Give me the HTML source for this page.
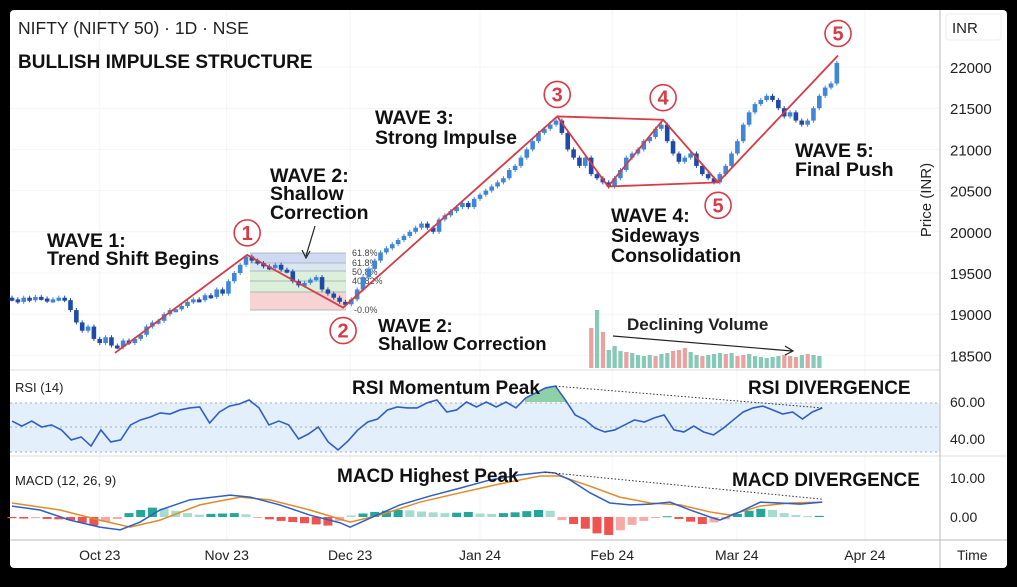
<!DOCTYPE html>
<html><head><meta charset="utf-8"><style>
html,body{margin:0;padding:0;background:#000;}
svg{display:block;font-family:"Liberation Sans",Arial,sans-serif;}
.b{font-weight:bold;fill:#111;font-size:19.5px;}
</style></head><body>
<svg id="c" width="1017" height="587" viewBox="0 0 1017 587" xmlns="http://www.w3.org/2000/svg">
<rect x="0" y="0" width="1017" height="587" fill="#000"/>
<rect x="10" y="10" width="997" height="558" rx="4" fill="#fff"/>
<g id="grid"></g>
<rect x="10" y="403" width="930" height="49" fill="#e3f0fb"/>
<line x1="10" y1="370" x2="940" y2="370" stroke="#ddd"/>
<line x1="10" y1="456" x2="1007" y2="456" stroke="#ddd"/>
<line x1="10" y1="540" x2="1007" y2="540" stroke="#bbb"/>
<line x1="940" y1="10" x2="940" y2="568" stroke="#bbb"/>
<rect x="946" y="14" width="55" height="26" rx="3" fill="#fff" stroke="#eee"/>
<text x="952" y="33" font-size="15" fill="#222">INR</text>
<text x="931" y="200" font-size="15" fill="#222" text-anchor="middle" transform="rotate(-90 931 200)">Price (INR)</text>
<text x="18" y="34" font-size="17.5" fill="#222">NIFTY (NIFTY 50) · 1D · NSE</text>
<text class="b" style="font-size:19px" x="18" y="68">BULLISH IMPULSE STRUCTURE</text>
<g id="fib">
<rect x="250" y="253" width="96" height="10" fill="#cfd9f2"/>
<rect x="250" y="263" width="96" height="8" fill="#dbe6f3"/>
<rect x="250" y="271" width="96" height="21" fill="#dcefd8"/>
<rect x="250" y="292" width="96" height="18" fill="#f7d3d3"/>
<g stroke="#9aa" stroke-width="0.8"><line x1="250" y1="253" x2="346" y2="253"/><line x1="250" y1="263" x2="346" y2="263"/><line x1="250" y1="271" x2="346" y2="271"/><line x1="250" y1="281" x2="346" y2="281"/><line x1="250" y1="292" x2="346" y2="292"/><line x1="250" y1="310" x2="346" y2="310"/></g>
<g font-size="9" fill="#444"><text x="352" y="256">61.8%</text><text x="352" y="266">61.8%</text><text x="352" y="275">50.8%</text><text x="352" y="284">40.82%</text><text x="354" y="313">-0.0%</text></g>
</g>
<g id="vol"></g>
<g id="candles"></g>
<g id="waves"></g>
<g id="labels">
<text class="b" x="47" y="247">WAVE 1:</text>
<text class="b" x="47" y="265">Trend Shift Begins</text>
<text class="b" x="270" y="182">WAVE 2:</text>
<text class="b" x="270" y="200">Shallow</text>
<text class="b" x="270" y="219">Correction</text>
<line x1="315" y1="226" x2="306" y2="256" stroke="#222" stroke-width="1.2"/>
<path d="M302 250 L306 258 L310 251" fill="none" stroke="#222" stroke-width="1.2"/>
<text class="b" x="375" y="124">WAVE 3:</text>
<text class="b" x="375" y="144">Strong Impulse</text>
<text class="b" style="font-size:18.5px" x="378" y="332">WAVE 2:</text>
<text class="b" style="font-size:18.5px" x="378" y="350">Shallow Correction</text>
<text class="b" x="611" y="222">WAVE 4:</text>
<text class="b" x="611" y="242">Sideways</text>
<text class="b" x="611" y="262">Consolidation</text>
<text class="b" x="795" y="157">WAVE 5:</text>
<text class="b" x="795" y="176">Final Push</text>
<text x="627" y="330" font-size="17" font-weight="bold" fill="#222">Declining Volume</text>
<line x1="613" y1="336" x2="792" y2="351" stroke="#222" stroke-width="1.2"/>
<path d="M785 346 L793 351 L785 355" fill="none" stroke="#222" stroke-width="1.2"/>
</g>
<g id="rsi"></g>
<text x="15" y="392" font-size="13" fill="#222">RSI (14)</text>
<text class="b" style="font-size:19px" x="352" y="394">RSI Momentum Peak</text>
<text class="b" style="font-size:19px" x="748" y="394">RSI DIVERGENCE</text>
<g id="macd"></g>
<text x="15" y="485" font-size="13" fill="#222">MACD (12, 26, 9)</text>
<text class="b" style="font-size:19px" x="337" y="482">MACD Highest Peak</text>
<text class="b" style="font-size:19px" x="732" y="486">MACD DIVERGENCE</text>
<g id="axes"></g>
<text x="957" y="560" font-size="14" fill="#222">Time</text>
</svg>
<script>
const closes=[19180,19150,19200,19170,19210,19190,19160,19180,19200,19170,
19050,18900,18800,18850,18700,18650,18720,18620,
18600,18680,18650,18700,18750,
18850,18900,18920,19000,19050,19060,19100,19150,19180,19170,19230,19210,19300,19250,19400,19500,19600,19700,
19650,19620,19580,19560,19600,19540,19520,19400,19350,19380,19420,19450,19300,19250,19200,19150,19120,19180,
19300,19450,19550,19650,19750,19800,19850,19900,19950,20000,20050,20100,20050,20000,20150,20200,20250,20300,20350,20300,20400,20450,20500,20550,20600,20650,20750,20800,20900,21000,21100,21200,21250,21300,21350,
21200,21000,20900,20800,20900,20700,20650,20600,20550,
20650,20750,20900,20950,21000,21100,21150,21250,21300,
21100,20950,20850,20900,20950,20800,20700,20650,20600,
20700,20800,20950,21100,21300,21450,21550,21600,21650,21600,
21500,21400,21450,21350,21300,21350,21500,
21650,21750,21800,22050];
const priceTicks=[22000,21500,21000,20500,20000,19500,19000,18500];
const waveDay=[17.6,40.2,56.6,93.2,101.9,111.3,120.7,141.2];
const wavePrice=[18530,19720,19080,21400,20550,21360,20600,22140];
const waveNames=["","1","2","3","","4","5","5"];
const volStart=99;
const volumes=[40,58,36,18,22,17,16,15,13,12,13,12,14,15,17,18,20,16,13,12,13,14,15,14,15,12,13,14,12,11,10,11,12,13,12,11,13,14,13,12];
const volUp=[0,1,0,1,1,1,0,1,1,1,1,0,1,1,0,0,0,1,1,0,1,1,1,0,1,0,0,1,1,1,1,1,1,0,0,0,1,0,1,1];
const rsiValues=[49.7,47.0,49.7,46.5,47.6,44.9,39.5,41.1,36.2,44.9,38.4,39.5,47.6,50.3,51.9,54.1,53.5,55.7,56.8,57.3,48.6,54.6,57.8,58.9,61.1,56.8,47.6,49.7,47.6,40.0,42.7,46.5,38.4,34.1,38.9,44.9,49.2,50.8,55.7,57.3,56.8,56.8,59.5,61.1,54.6,55.7,60.0,57.3,60.0,57.3,60.0,56.8,62.2,64.9,67.6,68.6,61.1,53.0,50.3,45.9,43.8,44.9,47.6,50.3,49.2,51.4,53.0,44.9,43.8,47.0,43.8,42.2,45.9,50.3,54.6,56.8,57.8,55.7,53.5,54.6,50.8,54.6,56.8];
const rsiTicks=[60,40];
const macdDay=[0,4.8,9.9,15,18.5,21.9,25.3,30.4,37.3,40.7,45.8,50.9,56.1,57.8,61.2,66.3,71.5,76.6,81.7,86.8,91.1,92.8,95.4,98.8,102.2,105.6,109.1,112.5,115.9,119.3,121,124.4,127.9,131.3,134.7,138.5];
const macdValues=[2.8,1.8,-0.8,-2.6,-3.3,-1.3,1.8,4.4,5.6,5.1,3.1,0.5,-1.5,-2.6,-0.3,3.1,5.4,7.4,9.5,10.8,11.5,11.3,9.5,6.2,3.6,3.1,3.3,3.8,1.8,0,-0.8,1.3,3.8,3.6,3.3,3.8];
const signalDay=[0,8.2,15,20.2,25.3,32.1,39,44.1,50.9,57.8,62.9,69.7,76.6,83.4,90.3,93.7,98.8,103.9,109.1,114.2,119.3,122.7,127.9,133,138.5];
const signalValues=[3.6,1.8,-0.8,-2.6,-0.8,3.1,5.1,4.4,1.8,-1.3,0.5,3.8,6.2,8.5,10.5,10.5,7.9,5.1,3.6,3.1,1.3,0.5,2.8,3.6,3.8];
const histValues=[-0.3,-0.4,-0.3,-0.5,-0.6,-0.8,-1.5,-2.2,-1.2,-0.5,1.0,1.8,2.4,2.2,1.6,1.0,0.6,0.8,0.9,1.0,0.7,-0.2,-0.6,-1.0,-1.3,-1.6,-1.9,-2.2,-1.0,0.4,0.9,1.3,1.6,1.8,1.7,1.4,1.2,1.0,1.1,1.3,0.9,0.8,1.0,1.2,1.5,1.8,1.6,-0.8,-1.8,-3.0,-4.2,-4.6,-3.4,-2.0,-1.0,-0.2,0.2,-0.5,-1.2,-1.8,-1.4,-0.6,0.8,1.6,2.1,1.8,1.0,0.5,0.2,0.3];
const macdTicks=[10,0];
const monthLabels=["Oct 23","Nov 23","Dec 23","Jan 24","Feb 24","Mar 24","Apr 24"];
const monthDay=[15,36.7,57.8,80,102.6,123.9,145.8];

const NS="http://www.w3.org/2000/svg";
const xDay=d=>12+d*5.85;
const yP=p=>67+(22000-p)*0.0824;
const yR=v=>402+(60-v)*1.85;
const yM=v=>517-v*3.9;
function mk(tag,attrs,parent){const e=document.createElementNS(NS,tag);for(const k in attrs)e.setAttribute(k,attrs[k]);document.getElementById(parent).appendChild(e);return e;}

priceTicks.forEach(p=>{const l=mk('line',{x1:10,x2:940,y1:yP(p),y2:yP(p),stroke:'#f4f4f4'},'grid');

});
monthDay.forEach(d=>{const l=mk('line',{x1:xDay(d),x2:xDay(d),y1:10,y2:540,stroke:'#f4f4f4'},'grid');

});

closes.forEach((c,i)=>{
 const o=i?closes[i-1]:c+20;const x=xDay(i);
 const hi=Math.max(o,c)+25,lo=Math.min(o,c)-25;
 const up=c>=o;const col=up?'#3f86d8':'#1f4aa8';
 const w=mk('line',{x1:x,x2:x,y1:yP(hi),y2:yP(lo),stroke:col,'stroke-width':1},'candles');
 
 
 const t=Math.min(yP(o),yP(c));const h=Math.max(3,Math.abs(yP(o)-yP(c)));
 const b=mk('rect',{x:x-2.3,y:t,width:4.6,height:h,fill:col},'candles');
 
 
});

const wp=waveDay.map((d,i)=>xDay(d)+','+yP(wavePrice[i])).join(' ');
const wl=mk('polyline',{points:wp,fill:'none',stroke:'#d63b47','stroke-width':1.8},'waves');


[[3,5],[4,6]].forEach(([a,b])=>{const l=mk('line',{x1:xDay(waveDay[a]),y1:yP(wavePrice[a]),x2:xDay(waveDay[b]),y2:yP(wavePrice[b]),stroke:'#d63b47','stroke-width':1.8},'waves');

});
waveNames.forEach((n,i)=>{if(!n)return;
 const below=(i===2||i===6);const cx=xDay(waveDay[i]);const cy=yP(wavePrice[i])+(below?23:-22);
 const c=mk('circle',{cx:cx,cy:cy,r:13,fill:'#fff',stroke:'#d63b47','stroke-width':1.6},'waves');
 
 
 const t=mk('text',{x:cx,y:cy+7,'text-anchor':'middle','font-size':20,'font-weight':'bold',fill:'#d63b47'},'waves');
 t.textContent=n;
 
 
});

volumes.forEach((v,i)=>{const r=mk('rect',{x:xDay(volStart+i)-2,y:368-v,width:4.2,height:v,fill:volUp[i]?'#86c9b9':'#e9a2a0'},'vol');

});

priceTicks.forEach(p=>{const t=mk('text',{x:950,y:yP(p)+6,'font-size':15,fill:'#222'},'axes');t.textContent=p;

});
rsiTicks.forEach(v=>{const t=mk('text',{x:950,y:yR(v)+5,'font-size':14,fill:'#222'},'axes');t.textContent=v.toFixed(2);

});
macdTicks.forEach(v=>{const t=mk('text',{x:950,y:yM(v)+5,'font-size':14,fill:'#222'},'axes');t.textContent=v.toFixed(2);

});
monthLabels.forEach((m,i)=>{const t=mk('text',{x:xDay(monthDay[i]),y:560,'font-size':14,fill:'#222','text-anchor':'middle'},'axes');t.textContent=m;

});

[403,427,452].forEach(y=>{const l=mk('line',{x1:10,x2:940,y1:y,y2:y,stroke:'#aab','stroke-dasharray':'2,3'},'rsi');

});
const rx=i=>xDay(i*138.5/(rsiValues.length-1));
const rpts=rsiValues.map((v,i)=>rx(i)+','+yR(v));
const clip=mk('clipPath',{id:'rc'},'rsi');
const cr=document.createElementNS(NS,'rect');cr.setAttribute('x',525);cr.setAttribute('y',370);cr.setAttribute('width',50);cr.setAttribute('height',yR(60)-370);clip.appendChild(cr);
const fill=mk('polygon',{points:rx(0)+','+yR(60)+' '+rpts.join(' ')+' '+rx(rsiValues.length-1)+','+yR(60),fill:'#8fd1a6','clip-path':'url(#rc)'},'rsi');


const rl=mk('polyline',{points:rpts.join(' '),fill:'none',stroke:'#2f5fc4','stroke-width':1.6},'rsi');


let pk=0;rsiValues.forEach((v,i)=>{if(v>rsiValues[pk])pk=i;});
const last=rsiValues.length-1;
const rd=mk('line',{x1:rx(pk),y1:yR(rsiValues[pk]),x2:rx(last),y2:yR(rsiValues[last]),stroke:'#333','stroke-dasharray':'1.5,2'},'rsi');



histValues.forEach((v,i)=>{const prev=i?histValues[i-1]:0;const grow=Math.abs(v)>=Math.abs(prev);
 const col=v>=0?(grow?'#26a69a':'#a6dccf'):(grow?'#ef5350':'#f5aaa8');
 const y0=yM(0),y1=yM(v);
 const r=mk('rect',{x:xDay(i*2)-4.5,y:Math.min(y0,y1),width:9,height:Math.max(1,Math.abs(y1-y0)),fill:col},'macd');
 
 });
const sl=mk('polyline',{points:signalDay.map((d,i)=>xDay(d)+','+yM(signalValues[i])).join(' '),fill:'none',stroke:'#e08a2c','stroke-width':1.5},'macd');


const ml=mk('polyline',{points:macdDay.map((d,i)=>xDay(d)+','+yM(macdValues[i])).join(' '),fill:'none',stroke:'#2f5fc4','stroke-width':1.5},'macd');


let mp=0;macdValues.forEach((v,i)=>{if(v>macdValues[mp])mp=i;});
const ml2=macdValues.length-1;
const md=mk('line',{x1:xDay(macdDay[mp]),y1:yM(macdValues[mp]),x2:xDay(macdDay[ml2]),y2:yM(macdValues[ml2])-3,stroke:'#333','stroke-dasharray':'1.5,2'},'macd');


</script>
</body></html>
